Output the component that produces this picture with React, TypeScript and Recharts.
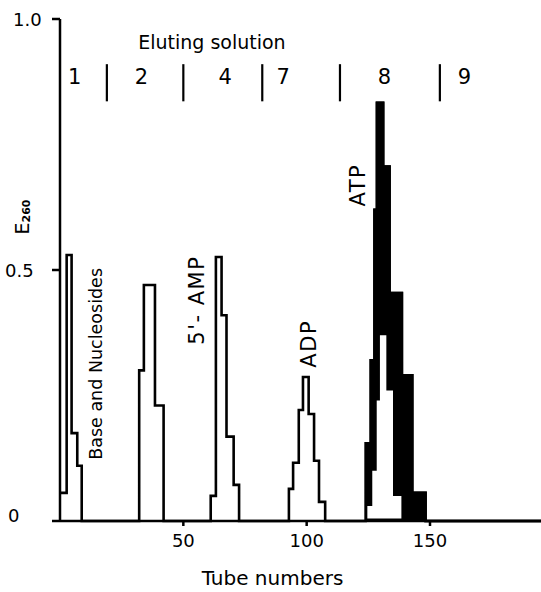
import React from 'react';
import { ComposedChart, Line, Area, XAxis, YAxis, ReferenceLine, ReferenceDot } from 'recharts';

// step readings: tube where a step starts, E260 over that step
const baseTubes = [0.3, 2.7, 4.7, 7, 8.8];
const baseE = [0.056, 0.53, 0.175, 0.11, 0];
const peak2Tubes = [32.1, 34, 38.5, 42];
const peak2E = [0.3, 0.47, 0.23, 0];
const ampTubes = [61.1, 63.2, 65.5, 67.5, 70.4, 72.6];
const ampE = [0.05, 0.526, 0.41, 0.168, 0.072, 0];
const adpTubes = [92.8, 94.5, 96.8, 98.5, 100.8, 103, 105, 107.5];
const adpE = [0.064, 0.116, 0.221, 0.287, 0.213, 0.12, 0.038, 0];
const atpTubes = [123.9, 126, 127.5, 128.5, 131, 133.6, 138.6, 142.8, 148.2, 195];
const atpE = [0.155, 0.32, 0.62, 0.833, 0.706, 0.454, 0.29, 0.056, 0, 0];
// hollow part inside the ATP peak
const atpInnerTubes = [124.6, 126.6, 128.4, 129.7, 132.3, 135, 138.4];
const atpInnerE = [0.03, 0.1, 0.24, 0.37, 0.26, 0.05, 0];

const solutionBounds = [19, 50, 82, 113.5, 154];
const solutionLabels = ['1', '2', '4', '7', '8', '9'];
const solutionLabelTubes = [6, 33, 67, 90.5, 131.5, 164];

const peakNames = ['Base and Nucleosides', "5'- AMP", 'ADP', 'ATP'];
const peakNameTubes = [14.6, 55.5, 101, 120.8];
const peakNameE = [0.313, 0.44, 0.353, 0.669];

const xTicks = [50, 100, 150];
const yTicks = [0, 0.5, 1];

const FONT = '"DejaVu Sans", sans-serif';

const toRows = (tubes: number[], vals: number[]) => tubes.map((t, i) => ({ t, e: vals[i] }));

const outline = [
  ...toRows(baseTubes, baseE),
  ...toRows(peak2Tubes, peak2E),
  ...toRows(ampTubes, ampE),
  ...toRows(adpTubes, adpE),
  ...toRows(atpTubes, atpE),
];
const atpOuter = toRows(atpTubes, atpE);
const atpInner = toRows(atpInnerTubes, atpInnerE);

const YTick = (props: any) => {
  const { y, payload } = props;
  const v = payload.value;
  const left = v === 0 ? 8 : v === 1 ? 13 : 5;
  return (
    <text x={left} y={v === 0 ? y - 6 : y} dominantBaseline="central" textAnchor="start"
      fontFamily={FONT} fontSize={18} fill="#000">
      {v === 0 ? '0' : v.toFixed(1)}
    </text>
  );
};

const YLabel = () => (
  <text transform="rotate(-90, 22, 217)" x={22} y={217} textAnchor="middle" dominantBaseline="central"
    fontFamily={FONT} fill="#000">
    <tspan fontSize={19}>E</tspan>
    <tspan fontSize={11} fontWeight="bold" dy={4}>260</tspan>
  </text>
);

const textShape = (label: string, size: number, rotate: boolean, spacing = 0) => (props: any) => {
  const { cx, cy } = props;
  return (
    <text x={cx} y={cy} textAnchor="middle" dominantBaseline="central" fontFamily={FONT}
      fontSize={size} letterSpacing={spacing} fill="#000"
      transform={rotate ? `rotate(-90, ${cx}, ${cy})` : undefined}>
      {label}
    </text>
  );
};

export default function App() {
  return (
    <div style={{ position: 'absolute', left: 0, top: 0, background: '#fff' }}>
      <ComposedChart width={541} height={592} margin={{ top: 19, right: 0, left: 0, bottom: 5 }}>
        <XAxis type="number" dataKey="t" domain={[0, 195]} ticks={xTicks} allowDataOverflow
          height={66} tickSize={5} tickMargin={8} stroke="#000" strokeWidth={2.5}
          tick={{ fontFamily: FONT, fontSize: 18, fill: '#000' }}
          label={{ value: 'Tube numbers', position: 'insideBottom', offset: 2, dx: -28,
            style: { fontFamily: FONT, fontSize: 20, fill: '#000' } }} />
        <YAxis type="number" dataKey="e" domain={[0, 1]} ticks={yTicks} width={60}
          tickSize={8} stroke="#000" strokeWidth={2.5} tick={<YTick />} label={<YLabel />} />

        <Area data={atpOuter} dataKey="e" type="stepAfter" fill="#000" fillOpacity={1}
          stroke="#000" strokeWidth={2.6} isAnimationActive={false} />
        <Area data={atpInner} dataKey="e" type="stepAfter" fill="#fff" fillOpacity={1}
          stroke="none" baseValue={0.005} isAnimationActive={false} />
        <Line data={outline} dataKey="e" type="stepAfter" stroke="#000" strokeWidth={2.6}
          dot={false} activeDot={false} isAnimationActive={false} />

        {solutionBounds.map(b => (
          <ReferenceLine key={b} segment={[{ x: b, y: 0.836 }, { x: b, y: 0.91 }]}
            stroke="#000" strokeWidth={2.2} />
        ))}
        {solutionLabels.map((s, i) => (
          <ReferenceDot key={s} x={solutionLabelTubes[i]} y={0.884} r={0}
            shape={textShape(s, 21, false)} />
        ))}
        <ReferenceDot x={61.6} y={0.954} r={0} shape={textShape('Eluting solution', 19, false)} />
        {peakNames.map((n, i) => (
          <ReferenceDot key={n} x={peakNameTubes[i]} y={peakNameE[i]} r={0}
            shape={textShape(n, i === 0 ? 17.5 : 21, true, i === 0 ? 0 : 1.5)} />
        ))}
      </ComposedChart>
    </div>
  );
}
